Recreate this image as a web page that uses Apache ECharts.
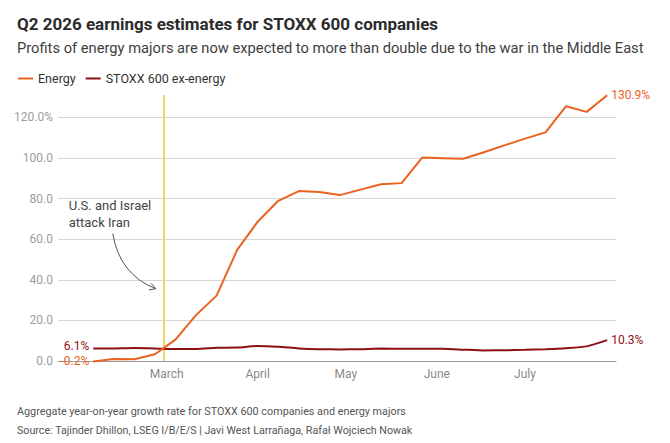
<!DOCTYPE html>
<html>
<head>
<meta charset="utf-8">
<title>Q2 2026 earnings estimates for STOXX 600 companies</title>
<script src="https://cdn.jsdelivr.net/npm/echarts@6/dist/echarts.min.js"></script>
<style>
  html, body { margin: 0; padding: 0; background: #fff; }
  #chart { width: 670px; height: 443px; }
</style>
</head>
<body>
<div id="chart"></div>
<script>
// weekly estimate dates
var weekDates = [
  '2026-02-04', '2026-02-11', '2026-02-18', '2026-02-25',
  '2026-03-04', '2026-03-11', '2026-03-18', '2026-03-25',
  '2026-04-01', '2026-04-08', '2026-04-15', '2026-04-22', '2026-04-29',
  '2026-05-06', '2026-05-13', '2026-05-20', '2026-05-27',
  '2026-06-03', '2026-06-10', '2026-06-17', '2026-06-24',
  '2026-07-01', '2026-07-08', '2026-07-15', '2026-07-22', '2026-07-29'
];
// year-on-year growth, %
var energy = [
  -0.2, 1.0, 0.9, 3.3,
  10.5, 22.6, 32.2, 54.7,
  68.6, 78.9, 83.7, 83.2, 81.7,
  84.4, 87.0, 87.6, 100.2,
  99.9, 99.6, 102.8, 106.2,
  109.5, 112.6, 125.5, 122.7, 130.9
];
var exEnergy = [
  6.1, 6.2, 6.4, 6.2,
  5.9, 5.9, 6.5, 6.6,
  7.4, 7.0, 6.2, 5.8, 5.7,
  5.8, 6.1, 6.0, 6.0,
  6.0, 5.6, 5.2, 5.3,
  5.5, 5.8, 6.3, 7.2, 10.3
];
var attackDate = '2026-02-28';
var monthTicks = ['2026-03-01', '2026-04-01', '2026-05-01', '2026-06-01', '2026-07-01'];
var monthLabels = ['March', 'April', 'May', 'June', 'July'];
var yTickLabels = ['0.0', '20.0', '40.0', '60.0', '80.0', '100.0', '120.0%'];

var FONT = 'Roboto, "Noto Sans", sans-serif';
var ORANGE = '#e9621f';
var DARKRED = '#8f0f12';

// day of year, so the x axis is a plain value axis
function dayNum (s) {
  return (Date.parse(s) - Date.parse('2026-01-01')) / 86400000;
}
var monthDays = monthTicks.map(dayNum);

// first and last point carry a value label
function buildData (values, color, startLift) {
  var last = values.length - 1;
  return values.map(function (v, i) {
    var item = { value: [dayNum(weekDates[i]), v] };
    if (i === 0 || i === last) {
      item.label = {
        show: true,
        position: i === 0 ? 'left' : 'right',
        distance: 4,
        offset: [0, i === 0 ? -startLift : 0],
        color: color,
        fontFamily: FONT,
        fontSize: 12,
        formatter: function (p) { return p.value[1].toFixed(1) + '%'; }
      };
    }
    return item;
  });
}

var chart = echarts.init(document.getElementById('chart'), null, { renderer: 'svg' });

var option = {
  animation: false,
  textStyle: { fontFamily: FONT },
  title: [{
    text: 'Q2 2026 earnings estimates for STOXX 600 companies',
    left: 12, top: 8,
    textStyle: { fontSize: 17, fontWeight: 'bold', color: '#2b2b2b', lineHeight: 22, fontFamily: FONT }
  }, {
    text: 'Profits of energy majors are now expected to more than double due to the war in the Middle East',
    left: 12, top: 34,
    textStyle: { fontSize: 14.7, fontWeight: 'normal', color: '#404040', lineHeight: 18, fontFamily: FONT }
  }, {
    text: 'Aggregate year-on-year growth rate for STOXX 600 companies and energy majors',
    left: 12, top: 399,
    textStyle: { fontSize: 10.8, fontWeight: 'normal', color: '#555', lineHeight: 14, fontFamily: FONT }
  }, {
    text: 'Source: Tajinder Dhillon, LSEG I/B/E/S | Javi West Larrañaga, Rafał Wojciech Nowak',
    left: 12, top: 418,
    textStyle: { fontSize: 10.7, fontWeight: 'normal', color: '#555', lineHeight: 14, fontFamily: FONT }
  }],
  legend: {
    left: 13, top: 67,
    icon: 'rect',
    itemWidth: 15, itemHeight: 2,
    itemGap: 10,
    textStyle: { fontSize: 12.5, color: '#333', fontFamily: FONT },
    data: ['Energy', 'STOXX 600 ex-energy']
  },
  grid: { left: 58, right: 54, top: 95, bottom: 82 },
  xAxis: {
    type: 'value',
    min: dayNum('2026-01-23'),
    max: dayNum('2026-08-01'),
    axisTick: { show: false },
    splitLine: { show: false },
    axisLine: { lineStyle: { color: '#9a9a9a', width: 1 } },
    axisLabel: {
      customValues: monthDays,
      color: '#8a8a8a',
      fontSize: 12,
      margin: 7,
      formatter: function (v) {
        var i = monthDays.indexOf(v);
        return i >= 0 ? monthLabels[i] : '';
      }
    }
  },
  yAxis: {
    type: 'value',
    min: 0,
    max: 131,
    interval: 20,
    axisLine: { show: false },
    axisTick: { show: false },
    splitLine: { showMaxLine: false, lineStyle: { color: '#d6d6d6', width: 1 } },
    axisLabel: {
      showMaxLabel: false,
      color: '#9c9c9c',
      fontSize: 12,
      margin: 5,
      formatter: function (v) {
        return yTickLabels[Math.round(v / 20)] || '';
      }
    }
  },
  series: [{
    name: 'Energy',
    type: 'line',
    color: ORANGE,
    symbol: 'circle',
    symbolSize: 0,
    clip: false,
    lineStyle: { width: 2 },
    z: 3,
    data: buildData(energy, ORANGE, 0),
    markLine: {
      silent: true,
      symbol: 'none',
      z: 1,
      label: { show: false },
      lineStyle: { color: '#f6d46c', width: 2, type: 'solid' },
      data: [{ xAxis: dayNum(attackDate) }]
    }
  }, {
    name: 'STOXX 600 ex-energy',
    type: 'line',
    color: DARKRED,
    symbol: 'circle',
    symbolSize: 0,
    smooth: 0.2,
    lineStyle: { width: 2 },
    z: 2,
    data: buildData(exEnergy, DARKRED, 3)
  }]
};

chart.setOption(option);

// annotation for the attack, placed from the event line
var tip = chart.convertToPixel({ gridIndex: 0 }, [dayNum(attackDate), 35.6]);
var tx = tip[0] - 8, ty = tip[1];
chart.setOption({
  graphic: [{
    type: 'text',
    left: tx - 87, top: ty - 92,
    style: {
      text: 'U.S. and Israel\nattack Iran',
      fill: '#444',
      font: '13px ' + FONT,
      lineHeight: 17
    }
  }, {
    type: 'bezierCurve',
    shape: { x1: tx - 43, y1: ty - 55, x2: tx, y2: ty, cpx1: tx - 36, cpy1: ty - 14 },
    style: { stroke: '#555', lineWidth: 1, fill: 'none' }
  }, {
    type: 'polyline',
    shape: { points: [[tx - 4.5, ty - 5.3], [tx, ty], [tx - 6.9, ty + 1.2]] },
    style: { stroke: '#555', lineWidth: 1, fill: 'none' }
  }]
});

window.addEventListener('resize', function () {
  chart.resize();
});
</script>
</body>
</html>
